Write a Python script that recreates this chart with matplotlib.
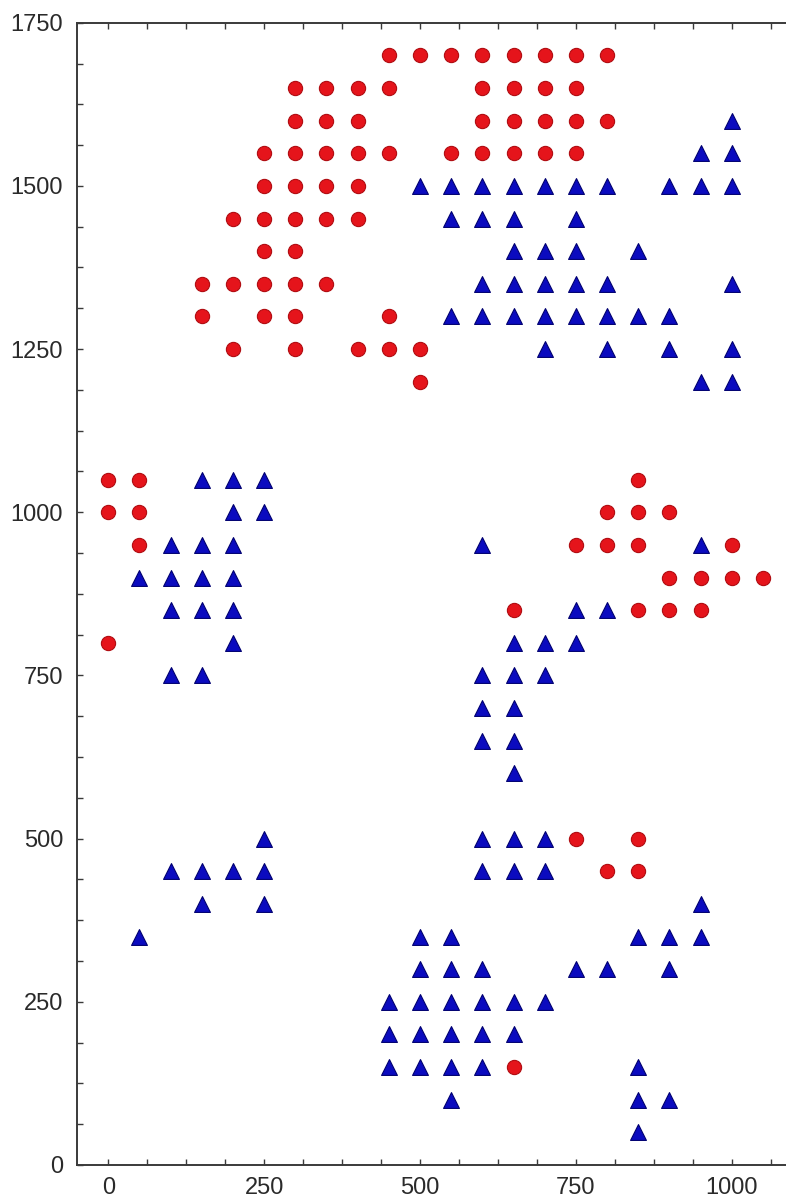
import matplotlib
matplotlib.use("Agg")
import matplotlib.pyplot as plt
import numpy as np

# class 1 (red circles), listed row by row from top
red_x = [450, 500, 550, 600, 650, 700, 750, 800,
         300, 350, 400, 450, 600, 650, 700, 750,
         300, 350, 400, 600, 650, 700, 750, 800,
         250, 300, 350, 400, 450, 550, 600, 650, 700, 750,
         250, 300, 350, 400,
         200, 250, 300, 350, 400,
         250, 300,
         150, 200, 250, 300, 350,
         150, 250, 300, 450,
         200, 300, 400, 450, 500,
         500,
         0, 50, 850,
         0, 50, 800, 850, 900,
         50, 750, 800, 850, 1000,
         900, 950, 1000, 1050,
         650, 850, 900, 950,
         0,
         750, 850,
         800, 850,
         650]
red_y = [1700] * 8 + [1650] * 8 + [1600] * 8 + [1550] * 10 + [1500] * 4 + \
        [1450] * 5 + [1400] * 2 + [1350] * 5 + [1300] * 4 + [1250] * 5 + \
        [1200] * 1 + [1050] * 3 + [1000] * 5 + [950] * 5 + [900] * 4 + \
        [850] * 4 + [800] * 1 + [500] * 2 + [450] * 2 + [150] * 1

# class 2 (blue triangles), listed row by row from top
blue_x = [1000,
          950, 1000,
          500, 550, 600, 650, 700, 750, 800, 900, 950, 1000,
          550, 600, 650, 750,
          650, 700, 750, 850,
          600, 650, 700, 750, 800, 1000,
          550, 600, 650, 700, 750, 800, 850, 900,
          700, 800, 900, 1000,
          950, 1000,
          150, 200, 250,
          200, 250,
          100, 150, 200, 600, 950,
          50, 100, 150, 200,
          100, 150, 200, 750, 800,
          200, 650, 700, 750,
          100, 150, 600, 650, 700,
          600, 650,
          600, 650,
          650,
          250, 600, 650, 700,
          100, 150, 200, 250, 600, 650, 700,
          150, 250, 950,
          50, 500, 550, 850, 900, 950,
          500, 550, 600, 750, 800, 900,
          450, 500, 550, 600, 650, 700,
          450, 500, 550, 600, 650,
          450, 500, 550, 600, 850,
          550, 850, 900,
          850]
blue_y = [1600] * 1 + [1550] * 2 + [1500] * 10 + [1450] * 4 + [1400] * 4 + \
         [1350] * 6 + [1300] * 8 + [1250] * 4 + [1200] * 2 + [1050] * 3 + \
         [1000] * 2 + [950] * 5 + [900] * 4 + [850] * 5 + [800] * 4 + \
         [750] * 5 + [700] * 2 + [650] * 2 + [600] * 1 + [500] * 4 + \
         [450] * 7 + [400] * 3 + [350] * 6 + [300] * 6 + [250] * 6 + \
         [200] * 5 + [150] * 5 + [100] * 3 + [50] * 1

x_ticks = [0, 250, 500, 750, 1000]
y_ticks = [0, 250, 500, 750, 1000, 1250, 1500, 1750]

INK = "#3a3a3a"
plt.rcParams.update({"font.family": ["Liberation Sans", "DejaVu Sans"], "font.size": 17})

fig = plt.figure(figsize=(7.86, 12.02), dpi=100)
ax = fig.add_axes([0.098, 0.0308, 0.902, 0.9503])

ax.scatter(red_x, red_y, s=105, marker="o", color="#e5141b", edgecolors="#b00d12",
           linewidths=0.8, zorder=3, clip_on=False)
ax.scatter(blue_x, blue_y, s=130, marker="^", color="#0b0bbf", edgecolors="#000070",
           linewidths=0.8, zorder=3, clip_on=False)

ax.set_xlim(-50, 1087)
ax.set_ylim(0, 1750)
ax.set_xticks(x_ticks)
ax.set_yticks(y_ticks)
ax.set_xticks(np.arange(0, 1100, 62.5), minor=True)
ax.set_yticks(np.arange(0, 1751, 62.5), minor=True)

for s in ("left", "bottom", "top"):
    ax.spines[s].set_color(INK); ax.spines[s].set_linewidth(1.4)
ax.spines["right"].set_visible(False)
ax.tick_params(which="both", direction="in", length=4, width=1.0, color=INK,
               top=True, right=False, labelcolor="#2a2a2a")
ax.tick_params(axis="y", pad=10)
ax.tick_params(axis="x", pad=9)

fig.savefig("out.png", dpi=100)
